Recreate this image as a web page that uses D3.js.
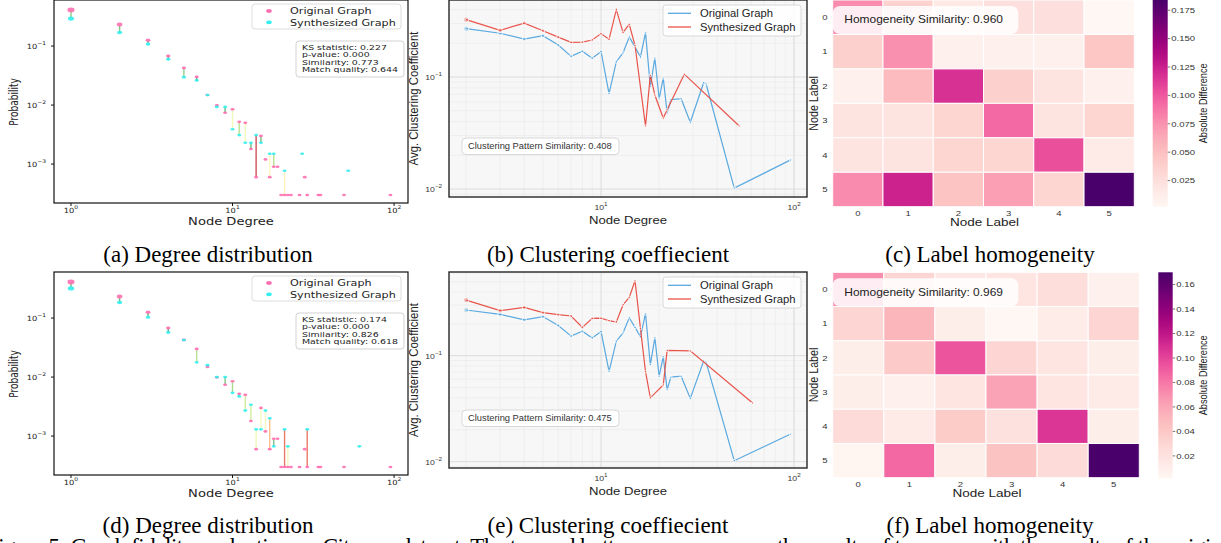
<!DOCTYPE html>
<html>
<head>
<meta charset="utf-8">
<script src="https://cdn.jsdelivr.net/npm/d3@7"></script>
<style>
body { margin: 0; background: #fff; }
svg { display: block; }
</style>
</head>
<body>
<div id="vis"></div>
<script>
var width = 1221,
    height = 543;

var sans = "'Liberation Sans', Arial, sans-serif";
var dejavu = "'DejaVu Sans', sans-serif";
var serif = "'Liberation Serif', 'Times New Roman', serif";

// ---------- degree distribution, (a) and (d)
var origDegree = [1, 2, 3, 4, 5, 6, 7, 8, 9, 10, 11, 12, 13, 14, 15, 16, 17, 18, 19, 20, 21, 22, 23, 26, 28, 29, 34, 35, 49, 95];
var origProb = [0.409, 0.232, 0.126, 0.0678, 0.0426, 0.0300, 0.0148, 0.0099, 0.0074, 0.0085, 0.0052, 0.0050, 0.0018, 0.0006, 0.0030,
                0.0012, 0.0006, 0.0009, 0.0009, 0.0003, 0.0003, 0.0003, 0.0003, 0.0003, 0.0006, 0.0003, 0.0003, 0.0003, 0.0003, 0.0003];

var synDegreeTop = [1, 2, 3, 4, 5, 6, 7, 8, 9, 10, 11, 12, 13, 14, 15, 17, 18, 21, 27, 52];
var synProbTop = [0.292, 0.170, 0.108, 0.0596, 0.0296, 0.0261, 0.0148, 0.0093, 0.0093, 0.0039, 0.0031, 0.0023, 0.0023, 0.0031, 0.0023,
                  0.0015, 0.0015, 0.00077, 0.0015, 0.00077];

var synDegreeBottom = [1, 2, 3, 4, 5, 6, 7, 8, 9, 10, 11, 12, 13, 14, 15, 16, 17, 18, 21, 22, 29, 61];
var synProbBottom = [0.318, 0.183, 0.103, 0.0568, 0.0423, 0.0178, 0.0159, 0.0100, 0.0100, 0.0054, 0.0047, 0.0027, 0.0034, 0.0013, 0.0013,
                     0.0027, 0.0020, 0.00067, 0.0013, 0.00067, 0.0013, 0.00067];

var statsTop = ["KS statistic: 0.227", "p-value: 0.000", "Similarity: 0.773", "Match quality: 0.644"];
var statsBottom = ["KS statistic: 0.174", "p-value: 0.000", "Similarity: 0.826", "Match quality: 0.618"];

// ---------- clustering coefficient, (b) and (e)
var clusDegree = [2, 3, 4, 5, 6, 7, 8, 9, 10, 11, 12, 13, 14, 15, 16, 17, 18, 19, 20, 21, 22, 23, 26, 29, 34, 35, 49, 96];
var clusOrig = [0.270, 0.246, 0.218, 0.234, 0.193, 0.153, 0.170, 0.147, 0.169, 0.071, 0.137, 0.164, 0.228, 0.185, 0.151, 0.249,
                0.082, 0.148, 0.0637, 0.098, 0.0476, 0.0627, 0.064, 0.0395, 0.089, 0.087, 0.0102, 0.0182];

var clusSynDegreeTop = [2, 3, 4, 5, 6, 7, 8, 9, 10, 11, 12, 13, 14, 15, 17, 18, 19, 21, 22, 27, 52];
var clusSynTop = [0.325, 0.261, 0.303, 0.259, 0.227, 0.204, 0.205, 0.214, 0.244, 0.217, 0.399, 0.250, 0.295, 0.191, 0.0365,
                  0.104, 0.069, 0.043, 0.051, 0.106, 0.0365];

var clusSynDegreeBottom = [2, 3, 4, 5, 6, 7, 8, 9, 10, 11, 12, 13, 14, 15, 16, 17, 18, 21, 22, 29, 61];
var clusSynBottom = [0.335, 0.266, 0.286, 0.255, 0.244, 0.237, 0.185, 0.225, 0.226, 0.214, 0.208, 0.303, 0.355, 0.510, 0.181,
                     0.0706, 0.040, 0.0529, 0.112, 0.111, 0.0357];

var clusSimilarity = [0.408, 0.475];

// ---------- label homogeneity, (c) and (f)
var nodeLabels = [0, 1, 2, 3, 4, 5];
var homogTop = [
  [0.078, 0.036, 0.016, 0.024, 0.024, 0.002],
  [0.038, 0.076, 0.009, 0.009, 0.009, 0.045],
  [0.009, 0.053, 0.117, 0.038, 0.020, 0.009],
  [0.020, 0.020, 0.033, 0.093, 0.020, 0.033],
  [0.020, 0.020, 0.033, 0.033, 0.104, 0.014],
  [0.078, 0.124, 0.046, 0.069, 0.034, 0.184]
];
var homogBottom = [
  [0.071, 0.030, 0.015, 0.018, 0.024, 0.008],
  [0.030, 0.052, 0.010, 0.0017, 0.012, 0.030],
  [0.010, 0.039, 0.094, 0.030, 0.018, 0.010],
  [0.010, 0.008, 0.018, 0.062, 0.018, 0.013],
  [0.026, 0.013, 0.038, 0.021, 0.106, 0.010],
  [0.003, 0.086, 0.010, 0.044, 0.026, 0.170]
];
var homogSimilarity = [0.960, 0.969];
var cbarTicksTop = [0.025, 0.050, 0.075, 0.100, 0.125, 0.150, 0.175];
var cbarTicksBottom = [0.02, 0.04, 0.06, 0.08, 0.10, 0.12, 0.14, 0.16];

var captionsTop = ["(a) Degree distribution", "(b) Clustering coeffiecient", "(c) Label homogeneity"];
var captionsBottom = ["(d) Degree distribution", "(e) Clustering coeffiecient", "(f) Label homogeneity"];
var figureCaption = "Figure 5: Graph fidelity evaluation on Citeseer dataset. The top and bottom rows compare the results of two runs with the results of the original";

var pink = "#ff6fb0",
    cyan = "#33eeee",
    blue = "#5aa9e0",
    red = "#e8544a";

var svg = d3.select('#vis').append('svg')
    .attr("width", width)
    .attr("height", height)
    .style("overflow", "hidden");

svg.append("rect").attr("width", width).attr("height", height).attr("fill", "#fff");

// text helper, the panels were squeezed so text is a bit wide
function label(g, x, y, str, o) {
  o = o || {};
  var tr = "translate(" + x + "," + y + ") scale(" + (o.sx || 1) + ",1)";
  if (o.rotate) tr += " rotate(" + o.rotate + ")";
  return g.append("text")
    .attr("transform", tr)
    .attr("font-family", o.family || sans)
    .attr("font-size", o.size || 10)
    .attr("text-anchor", o.anchor || "start")
    .attr("fill", o.color || "#222")
    .text(str);
}

function powTick(g, x, y, e, o) {
  var t = label(g, x, y, "", o);
  t.append("tspan").text("10");
  t.append("tspan")
    .attr("dy", -o.size * 0.5)
    .attr("font-size", o.size * 0.72)
    .text(e < 0 ? "\u2212" + (-e) : e);
  return t;
}

var gapColor = d3.scaleSequential(function(t) { return d3.interpolateRdYlGn(1 - t); })
    .domain([0, 0.75]).clamp(true);

var probByDegree = new Map(origDegree.map(function(d, i) { return [d, origProb[i]]; }));

//DEGREE DISTRIBUTION
function drawDegree(top, synDeg, synProb, stats) {
  var g = svg.append("g").attr("transform", "translate(0," + top + ")");
  var x = d3.scaleLog().domain([0.785, 122]).range([54, 408]);
  var y = d3.scaleLog().domain([0.000219, 0.603]).range([203, 0]);

  var synMap = new Map(synDeg.map(function(d, i) { return [d, synProb[i]]; }));
  var pairs = [];
  origDegree.forEach(function(d, i) {
    if (synMap.has(d)) pairs.push({deg: d, a: origProb[i], b: synMap.get(d)});
  });

  g.selectAll("line.gap")
    .data(pairs)
    .enter()
    .append("line")
    .attr("class", "gap")
    .attr("x1", function(d) { return x(d.deg); })
    .attr("x2", function(d) { return x(d.deg); })
    .attr("y1", function(d) { return y(d.a); })
    .attr("y2", function(d) { return y(d.b); })
    .attr("stroke", function(d) { return gapColor(Math.abs(Math.log10(d.a / d.b))); })
    .attr("stroke-width", 1.4)
    .attr("opacity", 0.75);

  function ry(p) { return 1.3 + 2.6 * p; }

  g.selectAll("ellipse.orig")
    .data(origDegree)
    .enter()
    .append("ellipse")
    .attr("cx", function(d) { return x(d); })
    .attr("cy", function(d, i) { return y(origProb[i]); })
    .attr("ry", function(d, i) { return ry(origProb[i]); })
    .attr("rx", function(d, i) { return 1.5 * ry(origProb[i]); })
    .attr("fill", pink)
    .attr("opacity", 0.9);

  g.selectAll("ellipse.syn")
    .data(synDeg)
    .enter()
    .append("ellipse")
    .attr("cx", function(d) { return x(d); })
    .attr("cy", function(d, i) { return y(synProb[i]); })
    .attr("ry", function(d, i) { return ry(synProb[i]); })
    .attr("rx", function(d, i) { return 1.5 * ry(synProb[i]); })
    .attr("fill", cyan)
    .attr("opacity", 0.9);

  g.append("rect")
    .attr("x", 54).attr("y", 0)
    .attr("width", 354).attr("height", 203)
    .attr("fill", "none")
    .attr("stroke", "#111")
    .attr("stroke-width", 1.2);

  [1, 10, 100].forEach(function(v) {
    g.append("line").attr("x1", x(v)).attr("x2", x(v)).attr("y1", 203).attr("y2", 206).attr("stroke", "#111");
    powTick(g, x(v), 213, Math.round(Math.log10(v)), {size: 7.2, sx: 1.15, family: dejavu, anchor: "middle"});
  });
  [0.1, 0.01, 0.001].forEach(function(v) {
    g.append("line").attr("x1", 54).attr("x2", 51).attr("y1", y(v)).attr("y2", y(v)).attr("stroke", "#111");
    powTick(g, 46, y(v) + 3, Math.round(Math.log10(v)), {size: 7.2, sx: 1.15, family: dejavu, anchor: "end"});
  });

  label(g, 231, 225, "Node Degree", {size: 10.5, sx: 1.245, family: dejavu, anchor: "middle"});
  label(g, 18, 102, "Probability", {size: 9, sx: 1.27, family: dejavu, anchor: "middle", rotate: -90});

  // legend
  g.append("rect")
    .attr("x", 252).attr("y", 4).attr("width", 149).attr("height", 25)
    .attr("rx", 3).attr("fill", "#fff").attr("fill-opacity", 0.85)
    .attr("stroke", "#d4d4d4").attr("stroke-width", 0.8);
  g.append("ellipse").attr("cx", 269).attr("cy", 11).attr("rx", 2.8).attr("ry", 1.9).attr("fill", pink);
  g.append("ellipse").attr("cx", 269).attr("cy", 22.3).attr("rx", 2.8).attr("ry", 1.9).attr("fill", cyan);
  label(g, 290, 14, "Original Graph", {size: 8.6, sx: 1.3, family: dejavu});
  label(g, 290, 25.5, "Synthesized Graph", {size: 8.6, sx: 1.3, family: dejavu});

  // stats box
  g.append("rect")
    .attr("x", 296).attr("y", 41).attr("width", 108).attr("height", 36)
    .attr("rx", 3).attr("fill", "#fff").attr("fill-opacity", 0.85)
    .attr("stroke", "#c8c8c8").attr("stroke-width", 0.8);
  stats.forEach(function(s, i) {
    label(g, 302, 50 + i * 7.35, s, {size: 7.4, sx: 1.27, family: dejavu});
  });
}

//CLUSTERING
function drawClustering(top, h, yDomain, synDeg, synVal, sim) {
  var g = svg.append("g").attr("transform", "translate(0," + top + ")");
  var x = d3.scaleLog().domain([1.63, 116.7]).range([449, 807]);
  var y = d3.scaleLog().domain(yDomain).range([h, 0]);

  g.append("rect").attr("x", 449).attr("y", 0).attr("width", 358).attr("height", h).attr("fill", "#f7f7f7");

  var xMinor = d3.range(2, 10).concat(d3.range(20, 101, 10));
  var yMinor = [0.009, 0.02, 0.03, 0.04, 0.05, 0.06, 0.07, 0.08, 0.09, 0.2, 0.3, 0.4, 0.5, 0.6]
      .filter(function(v) { return v > yDomain[0] && v < yDomain[1]; });

  g.selectAll("line.xminor")
    .data(xMinor).enter().append("line")
    .attr("x1", function(d) { return x(d); }).attr("x2", function(d) { return x(d); })
    .attr("y1", 0).attr("y2", h)
    .attr("stroke", "#e9e9e9").attr("stroke-width", 0.6);
  g.selectAll("line.yminor")
    .data(yMinor).enter().append("line")
    .attr("x1", 449).attr("x2", 807)
    .attr("y1", function(d) { return y(d); }).attr("y2", function(d) { return y(d); })
    .attr("stroke", "#e9e9e9").attr("stroke-width", 0.6);
  [10, 100].forEach(function(v) {
    g.append("line").attr("x1", x(v)).attr("x2", x(v)).attr("y1", 0).attr("y2", h)
      .attr("stroke", "#dcdcdc").attr("stroke-width", 1);
  });
  [0.1, 0.01].forEach(function(v) {
    g.append("line").attr("x1", 449).attr("x2", 807).attr("y1", y(v)).attr("y2", y(v))
      .attr("stroke", "#dcdcdc").attr("stroke-width", 1);
  });

  var line = d3.line()
    .x(function(d) { return x(d[0]); })
    .y(function(d) { return y(d[1]); });

  function markerR(deg) {
    var p = probByDegree.has(deg) ? probByDegree.get(deg) : 0.0003;
    return 1.2 + 3 * Math.sqrt(p);
  }

  function series(deg, val, color) {
    var pts = deg.map(function(d, i) { return [d, val[i]]; });
    g.append("path")
      .attr("d", line(pts))
      .attr("fill", "none")
      .attr("stroke", color)
      .attr("stroke-width", 1.2);
    g.selectAll(null)
      .data(pts).enter().append("circle")
      .attr("cx", function(d) { return x(d[0]); })
      .attr("cy", function(d) { return y(d[1]); })
      .attr("r", function(d) { return markerR(d[0]); })
      .attr("fill", color)
      .attr("fill-opacity", 0.35)
      .attr("stroke", "#fff")
      .attr("stroke-width", 0.8);
  }
  series(clusDegree, clusOrig, blue);
  series(synDeg, synVal, red);

  g.append("rect")
    .attr("x", 449).attr("y", 0).attr("width", 358).attr("height", h)
    .attr("fill", "none").attr("stroke", "#262626").attr("stroke-width", 1.4);

  [10, 100].forEach(function(v) {
    powTick(g, x(v), h + 13, Math.round(Math.log10(v)), {size: 7.6, sx: 1.14, anchor: "middle", color: "#333"});
  });
  [0.1, 0.01].forEach(function(v) {
    powTick(g, 442, y(v) + 3, Math.round(Math.log10(v)), {size: 7.6, sx: 1.14, anchor: "end", color: "#333"});
  });

  label(g, 628, h + 27, "Node Degree", {size: 11.5, sx: 1.14, anchor: "middle"});
  label(g, 417.5, h / 2, "Avg. Clustering Coefficient", {size: 11.4, sx: 1.14, anchor: "middle", rotate: -90});

  // legend
  g.append("rect")
    .attr("x", 663).attr("y", 5).attr("width", 138).attr("height", 31)
    .attr("rx", 3).attr("fill", "#fff").attr("fill-opacity", 0.85)
    .attr("stroke", "#d0d0d0").attr("stroke-width", 0.8);
  g.append("line").attr("x1", 668).attr("x2", 691).attr("y1", 13.3).attr("y2", 13.3).attr("stroke", blue).attr("stroke-width", 1.3);
  g.append("line").attr("x1", 668).attr("x2", 691).attr("y1", 27).attr("y2", 27).attr("stroke", red).attr("stroke-width", 1.3);
  label(g, 700, 17, "Original Graph", {size: 10.5, sx: 1.07});
  label(g, 700, 30.8, "Synthesized Graph", {size: 10.5, sx: 1.07});

  // similarity box
  g.append("rect")
    .attr("x", 462).attr("y", 138).attr("width", 157).attr("height", 16.5)
    .attr("rx", 4).attr("fill", "#fff").attr("fill-opacity", 0.9)
    .attr("stroke", "#cfcfcf").attr("stroke-width", 0.8);
  label(g, 468, 149.3, "Clustering Pattern Similarity: " + sim.toFixed(3), {size: 8.2, sx: 1.14, color: "#333"});
}

//HOMOGENEITY HEATMAP
function drawHeat(top, values, geo, ticks, fmt, sim) {
  var g = svg.append("g").attr("transform", "translate(0," + top + ")");
  var flat = [].concat.apply([], values);
  var ext = d3.extent(flat);
  var color = d3.scaleSequential(d3.interpolateRdPu).domain(ext);

  var x = d3.scaleBand().domain(nodeLabels).range([geo.x0, geo.x1]);
  var y = d3.scaleBand().domain(nodeLabels).range([0, geo.h]);

  values.forEach(function(row, r) {
    g.selectAll(null)
      .data(row).enter().append("rect")
      .attr("x", function(d, c) { return x(c); })
      .attr("y", y(r))
      .attr("width", x.bandwidth())
      .attr("height", y.bandwidth())
      .attr("fill", function(d) { return color(d); })
      .attr("stroke", "#fff")
      .attr("stroke-width", 1);
  });

  nodeLabels.forEach(function(l) {
    label(g, 825, y(l) + y.bandwidth() / 2 + 2.8, l, {size: 7.5, sx: 1.27, anchor: "middle", color: "#333"});
    label(g, x(l) + x.bandwidth() / 2, geo.h + 9.5, l, {size: 7.5, sx: 1.27, anchor: "middle", color: "#333"});
  });

  label(g, (geo.x0 + geo.x1) / 2 + 1, geo.h + 19.5, "Node Label", {size: 11, sx: 1.23, anchor: "middle"});
  label(g, 818, geo.h / 2, "Node Label", {size: 10.7, sx: 1.23, anchor: "middle", rotate: -90});

  // similarity box
  g.append("rect")
    .attr("x", geo.x0).attr("y", 6).attr("width", 185.6).attr("height", 28)
    .attr("rx", 7).attr("fill", "#fff").attr("fill-opacity", 0.85);
  label(g, geo.x0 + 11.6, 23.3, "Homogeneity Similarity: " + sim.toFixed(3), {size: 11.5, sx: 1.04});

  // colorbar
  var grad = svg.append("defs").append("linearGradient")
    .attr("id", "cbar" + top)
    .attr("x1", 0).attr("y1", 1).attr("x2", 0).attr("y2", 0);
  d3.range(0, 1.0001, 0.05).forEach(function(t) {
    grad.append("stop").attr("offset", t).attr("stop-color", d3.interpolateRdPu(t));
  });
  g.append("rect")
    .attr("x", geo.cx).attr("y", 0)
    .attr("width", geo.cw).attr("height", geo.ch)
    .attr("fill", "url(#cbar" + top + ")");

  var cy = d3.scaleLinear().domain(ext).range([geo.ch, 0]);
  ticks.forEach(function(v) {
    g.append("line")
      .attr("x1", geo.cx + geo.cw).attr("x2", geo.cx + geo.cw + 2.5)
      .attr("y1", cy(v)).attr("y2", cy(v))
      .attr("stroke", "#555").attr("stroke-width", 0.8);
    label(g, geo.cx + geo.cw + 3.5, cy(v) + 2.8, fmt(v), {size: 7.5, sx: 1.27, color: "#333"});
  });
  label(g, 1207, geo.ch / 2, "Absolute Difference", {size: 9.2, sx: 1.23, anchor: "middle", rotate: -90});
}

drawDegree(0, synDegreeTop, synProbTop, statsTop);
drawDegree(272, synDegreeBottom, synProbBottom, statsBottom);

drawClustering(0, 197, [0.00849, 0.487], clusSynDegreeTop, clusSynTop, clusSimilarity[0]);
drawClustering(272, 196, [0.0087, 0.617], clusSynDegreeBottom, clusSynBottom, clusSimilarity[1]);

drawHeat(0, homogTop, {x0: 832.7, x1: 1134.3, h: 206.7, cx: 1152.7, cw: 15, ch: 206.7},
         cbarTicksTop, d3.format(".3f"), homogSimilarity[0]);
drawHeat(272.3, homogBottom, {x0: 832.7, x1: 1139.3, h: 205.4, cx: 1158.3, cw: 14.4, ch: 206},
         cbarTicksBottom, d3.format(".2f"), homogSimilarity[1]);

// captions
var capX = [208, 608, 990];
captionsTop.forEach(function(c, i) {
  label(svg, capX[i], 262, c, {size: 23, family: serif, anchor: "middle", color: "#000"});
});
captionsBottom.forEach(function(c, i) {
  label(svg, capX[i], 533, c, {size: 23, family: serif, anchor: "middle", color: "#000"});
});

svg.append("text")
  .attr("x", -14)
  .attr("y", 554)
  .attr("font-family", serif)
  .attr("font-size", 23)
  .attr("textLength", 1252)
  .attr("lengthAdjust", "spacing")
  .text(figureCaption);
</script>
</body>
</html>
